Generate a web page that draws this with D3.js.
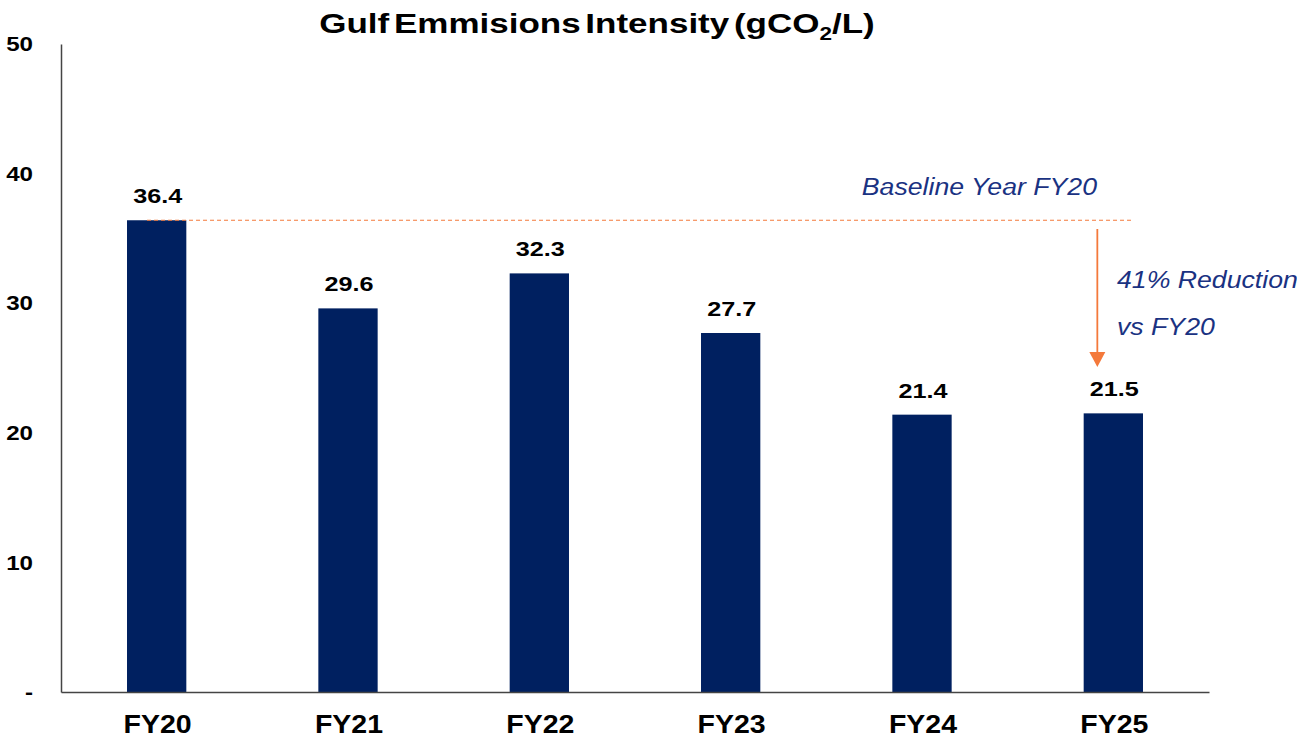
<!DOCTYPE html>
<html><head><meta charset="utf-8">
<script src="https://cdn.jsdelivr.net/npm/d3@7"></script>
<style>
html,body{margin:0;padding:0;background:#fff;}
svg{display:block;font-family:"Liberation Sans",Arial,sans-serif;}
</style></head>
<body>
<svg id="chart" width="1297" height="739"></svg>
<script>
const categories = ["FY20","FY21","FY22","FY23","FY24","FY25"];
const values = [36.4, 29.6, 32.3, 27.7, 21.4, 21.5];
const yTicks = [0,10,20,30,40,50];
const yTickLabels = ["-","10","20","30","40","50"];
const baselineValue = 36.4;
const titleMain = "Gulf Emmisions Intensity (gCO";
const titleSub = "2";
const titleEnd = "/L)";
const baselineLabel = "Baseline Year FY20";
const reductionLines = ["41% Reduction","vs FY20"];

const svg = d3.select("#chart");
const x = d3.scaleBand().domain(categories).range([61,1209]).paddingInner(0.69).paddingOuter(0.345);
const y = d3.scaleLinear().domain([0,50]).range([692,44]);

const navy = "#002060", orange = "#F4793B", blueText = "#1A3282";
const FONT = "'Liberation Sans',Arial,sans-serif";

// place a text at (px,py) stretched horizontally by sx
function stretch(sel, sx){
  sel.each(function(){
    const n = d3.select(this);
    const px = +n.attr("x")||0, py = +n.attr("y")||0;
    n.attr("x",0).attr("y",0).attr("transform",`translate(${px},${py}) scale(${sx},1)`);
  });
}

// bars
svg.selectAll("rect.bar").data(values).join("rect")
  .attr("class","bar")
  .attr("x",(d,i)=>x(categories[i]))
  .attr("width",x.bandwidth())
  .attr("y",d=>y(d))
  .attr("height",d=>y(0)-y(d))
  .attr("fill",navy);

// axes
const yAxis = svg.append("g").attr("transform","translate(61,0)")
  .call(d3.axisLeft(y).tickValues(yTicks).tickSize(0).tickPadding(0).tickFormat((d,i)=>yTickLabels[i]));
yAxis.select(".domain").attr("stroke","#444").attr("stroke-width",1.5);
yAxis.selectAll("text").attr("x",-28).attr("y",0).attr("font-size",21).attr("font-weight","bold")
  .attr("font-family",FONT).attr("fill","#000").call(stretch,1.15);

const xAxis = svg.append("g").attr("transform","translate(0,692)")
  .call(d3.axisBottom(x).tickSize(0).tickPadding(0));
xAxis.select(".domain").attr("stroke","#444").attr("stroke-width",1.5);
xAxis.selectAll("text").attr("x",1).attr("y",41).attr("dy",0).attr("font-size",25).attr("font-weight","bold")
  .attr("font-family",FONT).attr("fill","#000").call(stretch,1.14);

// value labels
svg.selectAll("text.val").data(values).join("text")
  .attr("class","val")
  .attr("x",(d,i)=>x(categories[i])+x.bandwidth()/2+1)
  .attr("y",d=>y(d)-17)
  .attr("text-anchor","middle")
  .attr("font-size",21).attr("font-weight","bold")
  .text(d=>d.toFixed(1)).call(stretch,1.2);

// baseline dashed line
svg.append("line")
  .attr("x1",x("FY20")+20).attr("x2",x("FY25")+x.bandwidth()-12)
  .attr("y1",y(baselineValue)).attr("y2",y(baselineValue))
  .attr("stroke",orange).attr("stroke-width",1.2).attr("stroke-dasharray","4,3");

svg.append("text").attr("x",1097).attr("y",195).attr("text-anchor","end")
  .attr("font-size",23).attr("font-style","italic").attr("fill",blueText)
  .text(baselineLabel).call(stretch,1.16);

// arrow
const ax = x("FY25")+x.bandwidth()/2-16;
svg.append("line").attr("x1",ax).attr("x2",ax).attr("y1",229).attr("y2",354)
  .attr("stroke",orange).attr("stroke-width",1.8);
svg.append("path").attr("d",`M${ax-8},352 L${ax+8},352 L${ax},367 Z`).attr("fill",orange);

svg.selectAll("text.red").data(reductionLines).join("text")
  .attr("class","red")
  .attr("x",1117).attr("y",(d,i)=>288+i*47)
  .attr("font-size",23).attr("font-style","italic").attr("fill",blueText)
  .text(d=>d).call(stretch,1.16);

// title
const t = svg.append("text").attr("x",597).attr("y",33).attr("text-anchor","middle")
  .attr("font-size",28).attr("font-weight","bold").attr("fill","#000").attr("word-spacing",-4);
t.append("tspan").text(titleMain);
t.append("tspan").attr("font-size",18).attr("dy",7).text(titleSub);
t.append("tspan").attr("dy",-7).text(titleEnd);
t.call(stretch,1.25);
</script>
</body></html>
